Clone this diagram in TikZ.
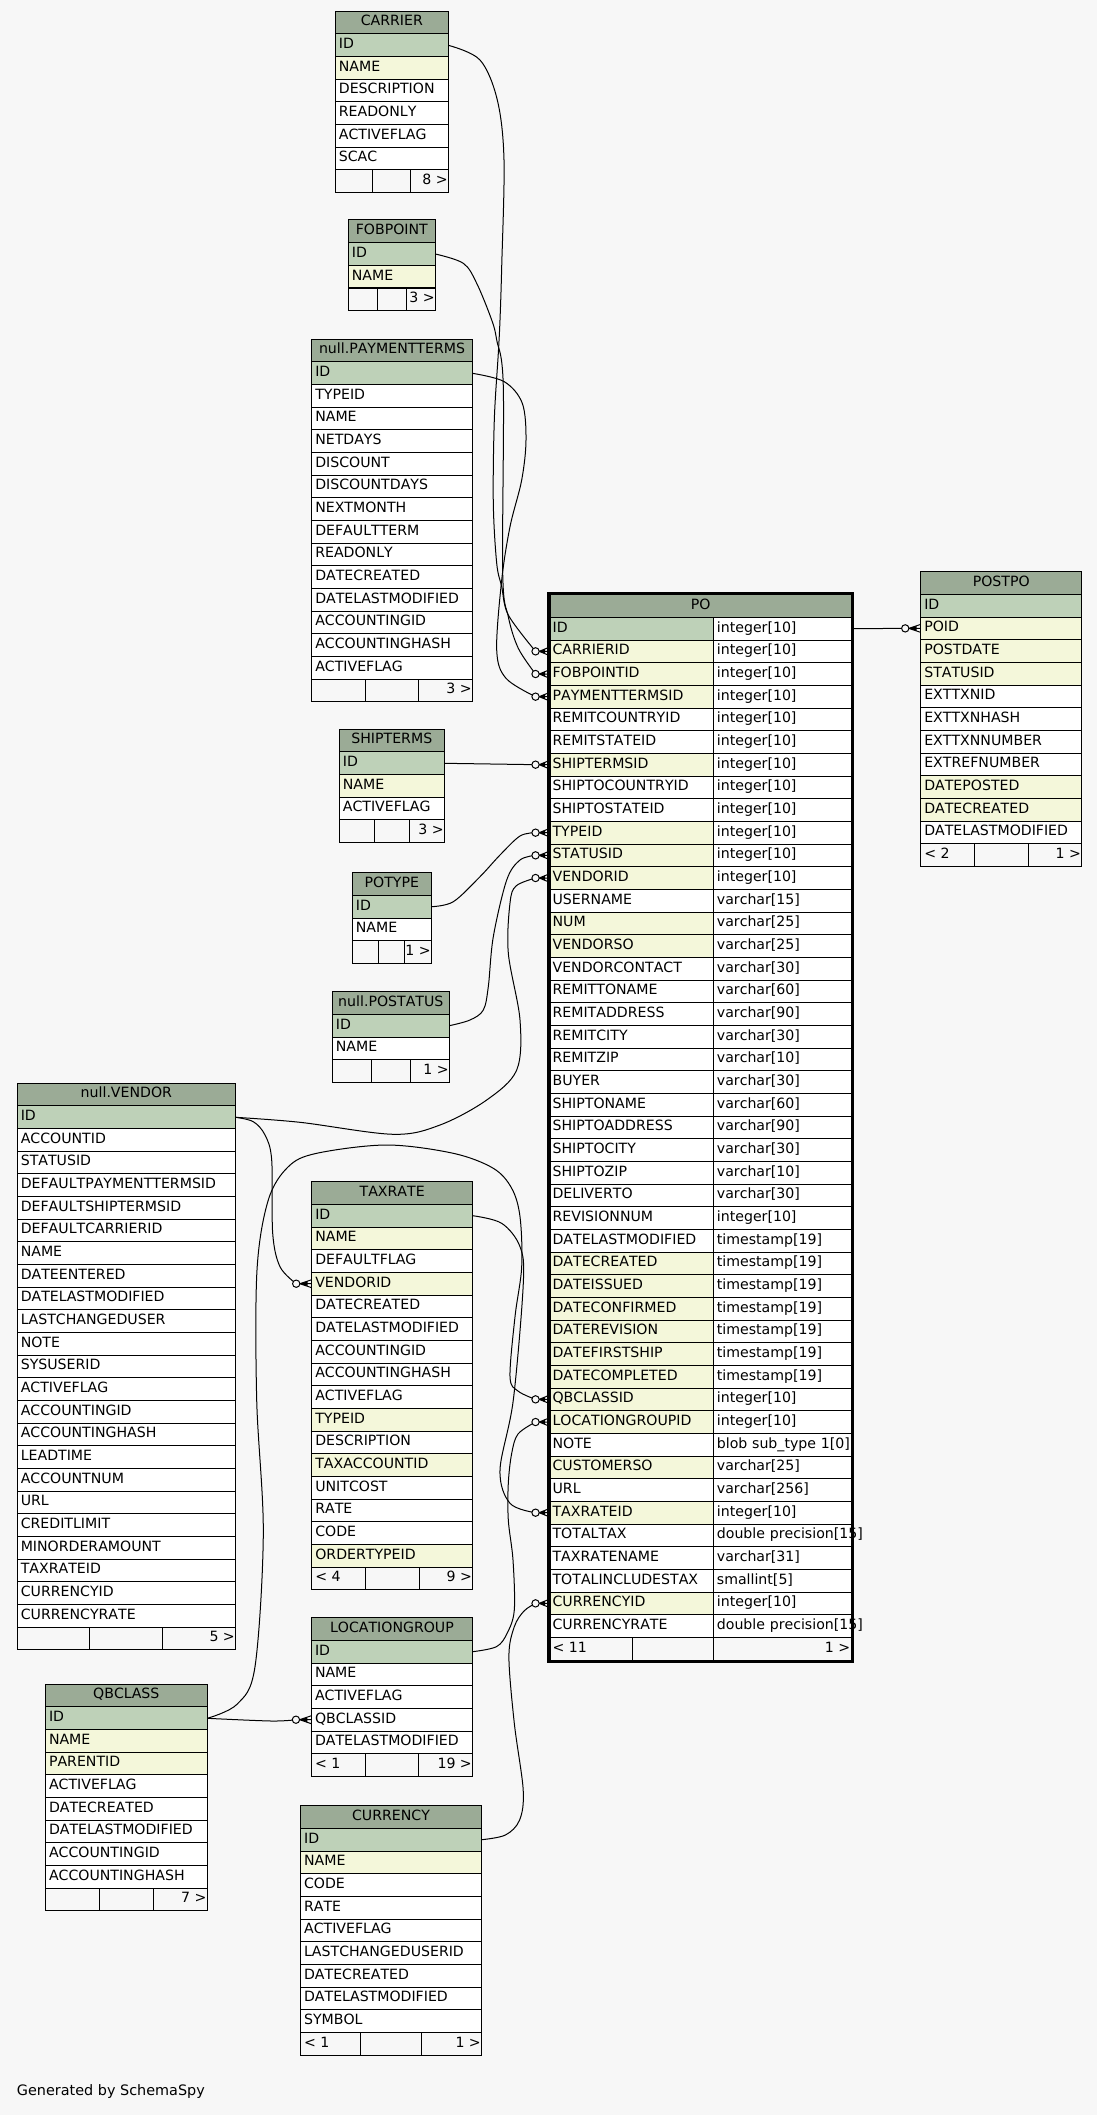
\documentclass[tikz,border=0pt]{standalone}
\usepackage{fontspec}
\setmainfont{DejaVu Sans}[Kerning=Off]
\definecolor{bg}{HTML}{F7F7F7}
\definecolor{hdr}{HTML}{9BAB96}
\definecolor{pk}{HTML}{BED1B8}
\definecolor{ix}{HTML}{F4F7DA}
\definecolor{wc}{HTML}{FFFFFF}
\tikzset{
 every node/.style={font=\fontsize{10.6pt}{12pt}\selectfont},
 base/.style={draw, line width=0.75pt, anchor=north west, minimum height=17pt, inner ysep=0pt, outer sep=0pt, text height=7pt, text depth=2pt},
 hdrbox/.style={base, fill=hdr, inner xsep=0pt, align=center},
 cellbox/.style={base, inner xsep=2.7pt, align=left},
 footbox/.style={base, fill=bg, inner xsep=0pt},
 foottext/.style={inner sep=0pt, text height=7pt, text depth=2pt},
 conn/.style={line width=0.75pt, line join=round},
 odot/.style={circle, draw, fill=bg, line width=0.75pt, minimum size=5.5pt, inner sep=0pt},
}
\newcommand\dbtable[6]{%
  \pgfmathsetlengthmacro\dbw{#3*0.75pt}%
  \pgfmathsetlengthmacro\dbtw{#3*0.75pt-5.4pt}%
  \node[hdrbox, minimum width=\dbw] (#1-0) at (#2,#4) {#5};%
  \foreach \kd/\tx [count=\i] in {#6} {%
    \node[cellbox, fill=\kd, minimum width=\dbw, text width=\dbtw] (#1-\i) at (#2,{#4+\i*22.667}) {\mbox{\tx}};%
  }%
}
\newcommand\dbfoot[7]{%
  \pgfmathsetmacro\fy{#5+#4*22.667}%
  \pgfmathsetlengthmacro\fw{#3*0.25pt}%
  \node[footbox, minimum width=\fw] (#1-fa) at (#2,\fy) {};%
  \node[footbox, minimum width=\fw] (#1-fb) at ({#2+#3/3},\fy) {};%
  \node[footbox, minimum width=\fw] (#1-fc) at ({#2+2*#3/3},\fy) {};%
  \node[foottext, anchor=west] (#1-fl) at ([xshift=2.5pt]#1-fa.west) {#6};%
  \node[foottext, anchor=east] (#1-fr) at ([xshift=-0.3pt]#1-fc.east) {#7};%
}
\newcommand\crowodot[4]{%
  \fill ([xshift=-#3]#1.west) -- ([xshift=-3pt,yshift=1.8pt]#1.west) -- ([xshift=-3pt,yshift=-1.8pt]#1.west) -- cycle;%
  \draw[conn] ([xshift=-#3]#1.west) -- ([yshift=3pt]#1.west)
              ([xshift=-#3]#1.west) -- (#1.west)
              ([xshift=-#3]#1.west) -- ([yshift=-3pt]#1.west);%
  \node[odot] (#4) at ([xshift=-#2]#1.west) {};%
}
\begin{document}
\begin{tikzpicture}[x=0.75pt,y=-0.75pt]
\useasboundingbox (0,0) rectangle (1097,2115);
\fill[bg] (0,0) rectangle (1097,2115);

% ---------- tables ----------
\dbtable{carrier}{335.3}{113}{11.3}{CARRIER}{pk/ID, ix/NAME, wc/DESCRIPTION, wc/READONLY, wc/ACTIVEFLAG, wc/SCAC}
\dbfoot{carrier}{335.3}{113}{7}{11.3}{}{8 >}

\dbtable{fob}{348.3}{87}{220}{FOBPOINT}{pk/ID, ix/NAME}
\dbfoot{fob}{348.3}{87}{3}{220}{}{3 >}

\dbtable{pay}{311.7}{160.6}{339.3}{null.PAYMENTTERMS}{pk/ID, wc/TYPEID, wc/NAME, wc/NETDAYS, wc/DISCOUNT, wc/DISCOUNTDAYS, wc/NEXTMONTH, wc/DEFAULTTERM, wc/READONLY, wc/DATECREATED, wc/DATELASTMODIFIED, wc/ACCOUNTINGID, wc/ACCOUNTINGHASH, wc/ACTIVEFLAG}
\dbfoot{pay}{311.7}{160.6}{15}{339.3}{}{3 >}

\dbtable{ship}{339.3}{105}{729.3}{SHIPTERMS}{pk/ID, ix/NAME, wc/ACTIVEFLAG}
\dbfoot{ship}{339.3}{105}{4}{729.3}{}{3 >}

\dbtable{potype}{352.3}{79}{872.7}{POTYPE}{pk/ID, wc/NAME}
\dbfoot{potype}{352.3}{79}{3}{872.7}{}{1 >}

\dbtable{postatus}{332.3}{117}{991.7}{null.POSTATUS}{pk/ID, wc/NAME}
\dbfoot{postatus}{332.3}{117}{3}{991.7}{}{1 >}

\dbtable{vendor}{17.2}{218.3}{1083.3}{null.VENDOR}{pk/ID, wc/ACCOUNTID, wc/STATUSID, wc/DEFAULTPAYMENTTERMSID, wc/DEFAULTSHIPTERMSID, wc/DEFAULTCARRIERID, wc/NAME, wc/DATEENTERED, wc/DATELASTMODIFIED, wc/LASTCHANGEDUSER, wc/NOTE, wc/SYSUSERID, wc/ACTIVEFLAG, wc/ACCOUNTINGID, wc/ACCOUNTINGHASH, wc/LEADTIME, wc/ACCOUNTNUM, wc/URL, wc/CREDITLIMIT, wc/MINORDERAMOUNT, wc/TAXRATEID, wc/CURRENCYID, wc/CURRENCYRATE}
\dbfoot{vendor}{17.2}{218.3}{24}{1083.3}{}{5 >}

\dbtable{tax}{311.7}{161}{1181.7}{TAXRATE}{pk/ID, ix/NAME, wc/DEFAULTFLAG, ix/VENDORID, wc/DATECREATED, wc/DATELASTMODIFIED, wc/ACCOUNTINGID, wc/ACCOUNTINGHASH, wc/ACTIVEFLAG, ix/TYPEID, wc/DESCRIPTION, ix/TAXACCOUNTID, wc/UNITCOST, wc/RATE, wc/CODE, ix/ORDERTYPEID}
\dbfoot{tax}{311.7}{161}{17}{1181.7}{< 4}{9 >}

\dbtable{lg}{311.4}{161.1}{1617.7}{LOCATIONGROUP}{pk/ID, wc/NAME, wc/ACTIVEFLAG, wc/QBCLASSID, wc/DATELASTMODIFIED}
\dbfoot{lg}{311.4}{161.1}{6}{1617.7}{< 1}{19 >}

\dbtable{qb}{45.4}{161.8}{1684.3}{QBCLASS}{pk/ID, ix/NAME, ix/PARENTID, wc/ACTIVEFLAG, wc/DATECREATED, wc/DATELASTMODIFIED, wc/ACCOUNTINGID, wc/ACCOUNTINGHASH}
\dbfoot{qb}{45.4}{161.8}{9}{1684.3}{}{7 >}

\dbtable{cur}{300.5}{181}{1805.7}{CURRENCY}{pk/ID, ix/NAME, wc/CODE, wc/RATE, wc/ACTIVEFLAG, wc/LASTCHANGEDUSERID, wc/DATECREATED, wc/DATELASTMODIFIED, wc/SYMBOL}
\dbfoot{cur}{300.5}{181}{10}{1805.7}{< 1}{1 >}

\dbtable{postpo}{920.7}{161}{571.7}{POSTPO}{pk/ID, ix/POID, ix/POSTDATE, ix/STATUSID, wc/EXTTXNID, wc/EXTTXNHASH, wc/EXTTXNNUMBER, wc/EXTREFNUMBER, ix/DATEPOSTED, ix/DATECREATED, wc/DATELASTMODIFIED}
\dbfoot{postpo}{920.7}{161}{12}{571.7}{< 2}{1 >}

% ---------- PO ----------
\node[hdrbox, minimum width=227.6pt] (po-0) at (549,594.67) {PO};
\foreach \kd/\nm/\ty [count=\i] in {pk/ID/integer[10], ix/CARRIERID/integer[10], ix/FOBPOINTID/integer[10], ix/PAYMENTTERMSID/integer[10], wc/REMITCOUNTRYID/integer[10], wc/REMITSTATEID/integer[10], ix/SHIPTERMSID/integer[10], wc/SHIPTOCOUNTRYID/integer[10], wc/SHIPTOSTATEID/integer[10], ix/TYPEID/integer[10], ix/STATUSID/integer[10], ix/VENDORID/integer[10], wc/USERNAME/varchar[15], ix/NUM/varchar[25], ix/VENDORSO/varchar[25], wc/VENDORCONTACT/varchar[30], wc/REMITTONAME/varchar[60], wc/REMITADDRESS/varchar[90], wc/REMITCITY/varchar[30], wc/REMITZIP/varchar[10], wc/BUYER/varchar[30], wc/SHIPTONAME/varchar[60], wc/SHIPTOADDRESS/varchar[90], wc/SHIPTOCITY/varchar[30], wc/SHIPTOZIP/varchar[10], wc/DELIVERTO/varchar[30], wc/REVISIONNUM/integer[10], wc/DATELASTMODIFIED/timestamp[19], ix/DATECREATED/timestamp[19], ix/DATEISSUED/timestamp[19], ix/DATECONFIRMED/timestamp[19], ix/DATEREVISION/timestamp[19], ix/DATEFIRSTSHIP/timestamp[19], ix/DATECOMPLETED/timestamp[19], ix/QBCLASSID/integer[10], ix/LOCATIONGROUPID/integer[10], wc/NOTE/blob sub\_type 1[0], ix/CUSTOMERSO/varchar[25], wc/URL/varchar[256], ix/TAXRATEID/integer[10], wc/TOTALTAX/double precision[15], wc/TAXRATENAME/varchar[31], wc/TOTALINCLUDESTAX/smallint[5], ix/CURRENCYID/integer[10], wc/CURRENCYRATE/double precision[15]} {
  \node[cellbox, fill=\kd, minimum width=123.2pt, text width=117.8pt] (po-\i) at (549,{594.67+\i*22.667}) {\mbox{\nm}};
  \node[cellbox, fill=wc, minimum width=104.4pt, text width=99pt] (po-t\i) at (713.3,{594.67+\i*22.667}) {\mbox{\ty}};
}
\node[footbox, minimum width=62.5pt] (po-fa) at (549,1637.35) {};
\node[footbox, minimum width=60.75pt] (po-fb) at (632.3,1637.35) {};
\node[footbox, minimum width=104.4pt] (po-fc) at (713.3,1637.35) {};
\node[foottext, anchor=west] (po-fl) at ([xshift=2.5pt]po-fa.west) {< 11};
\node[foottext, anchor=east] (po-fr) at ([xshift=-1.5pt]po-fc.east) {1 >};
\draw[line width=2.5pt] (549,593.7) rectangle (852.5,1661.7);

% ---------- circle positions ----------
\coordinate (c-carrier) at ([xshift=-10.1pt]po-2.west);
\coordinate (c-fob) at ([xshift=-10.1pt]po-3.west);
\coordinate (c-pay) at ([xshift=-10.1pt]po-4.west);
\coordinate (c-ship) at ([xshift=-10.1pt]po-7.west);
\coordinate (c-type) at ([xshift=-10.1pt]po-10.west);
\coordinate (c-status) at ([xshift=-10.1pt]po-11.west);
\coordinate (c-vendor) at ([xshift=-10.1pt]po-12.west);
\coordinate (c-qb) at ([xshift=-10.1pt]po-35.west);
\coordinate (c-lg) at ([xshift=-10.1pt]po-36.west);
\coordinate (c-taxrate) at ([xshift=-10.1pt]po-40.west);
\coordinate (c-cur) at ([xshift=-10.1pt]po-44.west);
\coordinate (c-taxvendor) at ([xshift=-11.6pt]tax-4.west);
\coordinate (c-lgqb) at ([xshift=-11.6pt]lg-4.west);
\coordinate (c-postpo) at ([xshift=-11.6pt]postpo-2.west);

% ---------- connectors ----------
\draw[conn] plot[smooth, tension=0.55] coordinates {(carrier-1.east) (480,60) (497.3,100) (504,160) (501.7,266.7) (500,320) (498.3,353.3) (494.3,420) (493.3,503.3) (496.7,563.3) (501.7,586.7) (508.3,615) (c-carrier)};
\draw[conn] plot[smooth, tension=0.55] coordinates {(fob-1.east) (463.3,263.3) (476.7,283.3) (491.7,320) (496.7,340) (503.3,386.7) (502.7,573.3) (508.3,616.7) (518.3,648.3) (c-fob)};
\draw[conn] plot[smooth, tension=0.55] coordinates {(pay-1.east) (504.3,381.7) (522.3,403.3) (526,440) (521.7,480) (510,526.7) (501.7,580) (496.7,650) (506,678.3) (c-pay)};
\draw[conn] (ship-1.east) -- (c-ship);
\draw[conn] plot[smooth, tension=0.55] coordinates {(potype-1.east) (453.3,901.7) (480,876.7) (500,855) (520,836) (c-type)};
\draw[conn] plot[smooth, tension=0.55] coordinates {(postatus-1.east) (470,1020) (483.3,1010) (488.3,986.7) (493.3,936.7) (506.7,880) (520,860) (c-status)};
\draw[conn] plot[smooth, tension=0.55] coordinates {(vendor-1.east) (300,1122.3) (393.3,1134.3) (440,1125) (486.7,1100) (516.7,1070) (520,1020) (508.3,953) (510,903) (516,886) (c-vendor)};
\draw[conn] plot[smooth, tension=0.55] coordinates {(vendor-1.east) (253.3,1121.7) (265,1135) (271.7,1160) (272.7,1233.3) (280,1266.7) (c-taxvendor)};
\draw[conn] plot[smooth, tension=0.55] coordinates {(qb-1.east) (237.3,1704) (255,1666.7) (263.3,1533.3) (256.7,1400) (257,1270) (268.3,1200) (288.3,1166.7) (316.7,1153.3) (386.7,1145) (453.3,1153.3) (493.3,1168.3) (511.7,1188.3) (520,1216.7) (521.7,1266.7) (515,1316.7) (510,1376.7) (518,1391) (c-qb)};
\draw[conn] plot[smooth, tension=0.55] coordinates {(qb-1.east) (271.4,1721) (c-lgqb)};
\draw[conn] plot[smooth, tension=0.55] coordinates {(lg-1.east) (496.4,1646.7) (507.1,1633.3) (514.3,1610) (513,1560) (508.3,1520) (508.3,1483.3) (511.7,1453.3) (518,1434) (c-lg)};
\draw[conn] plot[smooth, tension=0.55] coordinates {(tax-1.east) (501.7,1223.3) (520,1246.7) (523.3,1283.3) (513.3,1400) (500,1470) (510,1503.3) (c-taxrate)};
\draw[conn] plot[smooth, tension=0.55] coordinates {(cur-1.east) (505.4,1835) (519.6,1820) (523.2,1790) (514.3,1723.3) (508.9,1656.7) (514.3,1626.7) (524,1611) (c-cur)};
\draw[conn] (po-t1.east) -- (c-postpo);

% ---------- crow's feet with circles ----------
\crowodot{po-2}{10.1pt}{7.35pt}{o-carrier}
\crowodot{po-3}{10.1pt}{7.35pt}{o-fob}
\crowodot{po-4}{10.1pt}{7.35pt}{o-pay}
\crowodot{po-7}{10.1pt}{7.35pt}{o-ship}
\crowodot{po-10}{10.1pt}{7.35pt}{o-type}
\crowodot{po-11}{10.1pt}{7.35pt}{o-status}
\crowodot{po-12}{10.1pt}{7.35pt}{o-vendor}
\crowodot{po-35}{10.1pt}{7.35pt}{o-qb}
\crowodot{po-36}{10.1pt}{7.35pt}{o-lg}
\crowodot{po-40}{10.1pt}{7.35pt}{o-taxrate}
\crowodot{po-44}{10.1pt}{7.35pt}{o-cur}
\crowodot{tax-4}{11.6pt}{8.85pt}{o-taxvendor}
\crowodot{lg-4}{11.6pt}{8.85pt}{o-lgqb}
\crowodot{postpo-2}{11.6pt}{8.85pt}{o-postpo}

\node[anchor=west, inner sep=0pt, font=\fontsize{10.8pt}{12pt}\selectfont] (gen) at (16.7,2091.7) {Generated by SchemaSpy};
\end{tikzpicture}
\end{document}
